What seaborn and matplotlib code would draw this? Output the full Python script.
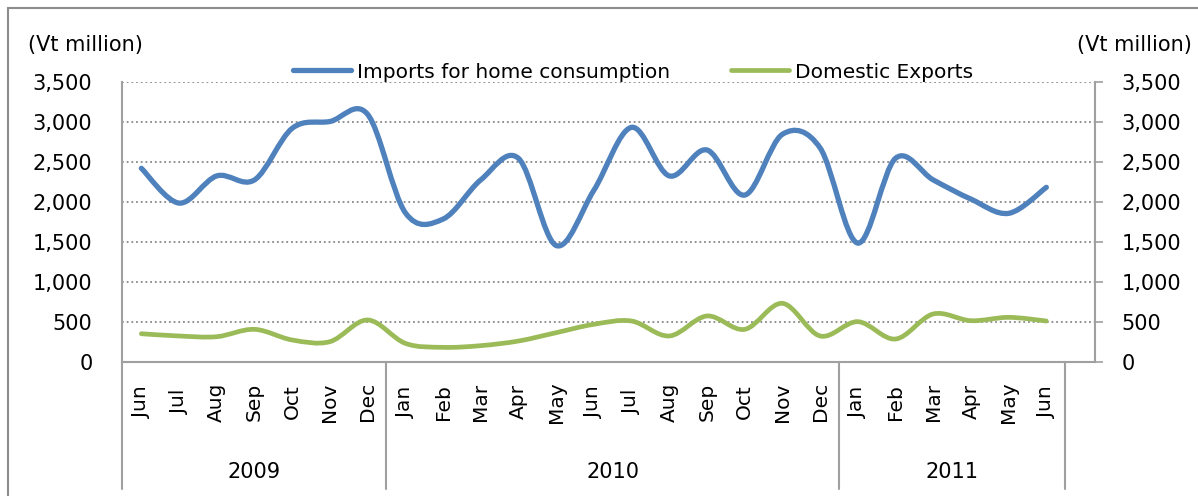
import numpy as np
import pandas as pd
import seaborn as sb
import matplotlib.pyplot as plt
import matplotlib.transforms as mtransforms
from matplotlib.path import Path
from matplotlib.patches import PathPatch, Rectangle
from matplotlib.lines import Line2D

sb.set_style("white")
plt.rcParams['font.family'] = ['DejaVu Sans']
plt.rcParams['text.color'] = 'black'
plt.rcParams['xtick.color'] = 'black'
plt.rcParams['ytick.color'] = 'black'

months = ['Jun', 'Jul', 'Aug', 'Sep', 'Oct', 'Nov', 'Dec',
          'Jan', 'Feb', 'Mar', 'Apr', 'May', 'Jun', 'Jul', 'Aug', 'Sep', 'Oct', 'Nov', 'Dec',
          'Jan', 'Feb', 'Mar', 'Apr', 'May', 'Jun']
years = ['2009', '2010', '2011']
year_counts = [7, 12, 6]
imports = [2425, 1990, 2330, 2280, 2925, 3010, 3100, 1870, 1790, 2280, 2550, 1460, 2150,
           2937, 2330, 2654, 2090, 2850, 2680, 1490, 2550, 2280, 2040, 1862, 2187]
exports = [357, 329, 320, 412, 279, 258, 529, 237, 187, 208, 266, 370, 475,
           516, 329, 579, 412, 737, 329, 508, 291, 604, 520, 562, 516]
yticks = [0, 500, 1000, 1500, 2000, 2500, 3000, 3500]

df = pd.DataFrame({'month': months, 'imports': imports, 'exports': exports})
df['pos'] = np.arange(len(df))

blue = '#4F81BD'
green = '#9BBB59'
axis_grey = '#A0A0A0'


def smooth_path(x, y):
    # excel style smoothed line: bezier through every point
    pts = np.column_stack([x, y]).astype(float)
    p = np.vstack([pts[0], pts, pts[-1]])
    verts = [pts[0]]
    codes = [Path.MOVETO]
    for i in range(len(pts) - 1):
        p0, p1, p2, p3 = p[i], p[i + 1], p[i + 2], p[i + 3]
        verts += [p1 + (p2 - p0) / 6, p2 - (p3 - p1) / 6, p2]
        codes += [Path.CURVE4] * 3
    return Path(verts, codes)


fig = plt.figure(figsize=(11.98, 4.96), dpi=100)
ax = fig.add_axes([122.5 / 1198, 1 - 362.3 / 496, (1094.6 - 122.5) / 1198, 280 / 496])
ax2 = ax.twinx()

for col, c, lw in [('imports', blue, 3.8), ('exports', green, 3.4)]:
    ax.add_patch(PathPatch(smooth_path(df['pos'], df[col]), facecolor='none',
                           edgecolor=c, lw=lw, capstyle='round', joinstyle='round', zorder=3))

ax.set_xlim(-0.5, 25.28)
for a in (ax, ax2):
    a.set_ylim(0, 3500)
    a.set_yticks(yticks)
    a.set_yticklabels([f'{v:,}' for v in yticks], fontsize=15)
    for s in a.spines.values():
        s.set_visible(False)

ax.yaxis.grid(True, color='#888888', linestyle=(0, (1, 1.6)), linewidth=1.3)
ax.set_axisbelow(True)
ax.spines['left'].set_visible(True)
ax.spines['bottom'].set_visible(True)
ax2.spines['right'].set_visible(True)
for s in [ax.spines['left'], ax.spines['bottom'], ax2.spines['right']]:
    s.set_color(axis_grey)
    s.set_linewidth(1.5)

ax.tick_params(axis='y', length=0, pad=21.6)
ax2.tick_params(axis='y', length=5.8, width=1.2, color=axis_grey, labelcolor='black', pad=13.7)

ax.set_xticks(df['pos'])
ax.set_xticklabels(df['month'], rotation=90, fontsize=14.5)
ax.tick_params(axis='x', length=0, pad=28.5)
for lbl in ax.get_xticklabels():
    lbl.set_va('center')

# category group separators and year labels
trans = mtransforms.blended_transform_factory(ax.transData, ax.transAxes)
bounds = np.concatenate([[0], np.cumsum(year_counts)]) - 0.5
for b in bounds:
    ax.plot([b, b], [0, -0.4525], transform=trans, color=axis_grey, lw=1.5, clip_on=False)
for yr, lo, hi in zip(years, bounds[:-1], bounds[1:]):
    ax.text((lo + hi) / 2, -0.392, yr, transform=trans, ha='center', va='center', fontsize=15)

fig.text(28 / 1198, 1 - 45 / 496, '(Vt million)', ha='left', va='center', fontsize=15)
fig.text(1192 / 1198, 1 - 45 / 496, '(Vt million)', ha='right', va='center', fontsize=15)

handles = [Line2D([], [], color=blue, lw=3.8), Line2D([], [], color=green, lw=3.4)]
fig.legend(handles, ['Imports for home consumption', 'Domestic Exports'], ncol=2,
           loc='center', bbox_to_anchor=(633 / 1198, 1 - 72 / 496), frameon=False,
           fontsize=14.5, handlelength=2.9, handletextpad=0.3, columnspacing=3.0)

# outer chart border
fig.patches.append(Rectangle((8 / 1198, -0.5), 2, 1.5 - 8 / 496, transform=fig.transFigure,
                             fill=False, edgecolor='#8C8C8C', lw=1.5))

fig.savefig('out.png', dpi=100)
